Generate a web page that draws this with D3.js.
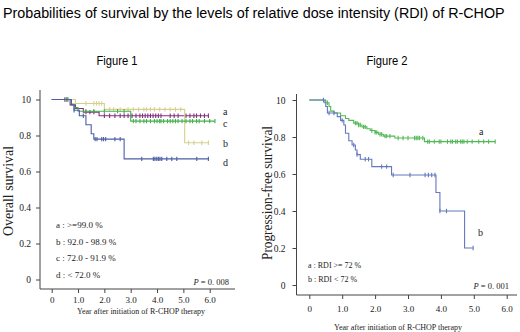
<!DOCTYPE html>
<html>
<head>
<meta charset="utf-8">
<script src="https://cdn.jsdelivr.net/npm/d3@7"></script>
<style>
  body { margin: 0; background: #fff; }
  svg { display: block; }
  .serif { font-family: "Liberation Serif", "DejaVu Serif", serif; fill: #222; }
  .sans { font-family: "Liberation Sans", Arial, sans-serif; fill: #111; }
</style>
</head>
<body>
<div id="chart"></div>
<script>
// Kaplan-Meier curves: [year, survival] steps, censor times, end year
const yTickValues = [0, 0.2, 0.4, 0.6, 0.8, 1.0];
const yTickLabels = ["0", "0.2", "0.4", "0.6", "0.8", "10"];
const xTickValues = [0, 1, 2, 3, 4, 5, 6];
const xTickLabels = ["0", "1.0", "2.0", "3.0", "4.0", "5.0", "6.0"];

// Figure 1 – overall survival by RDI group
const f1Groups = ["a", "b", "c", "d"];
const f1Legend = ["a : >=99.0 %", "b :  92.0 - 98.9 %", "c :  72.0 - 91.9 %", "d : < 72.0 %"];
const f1aSteps = [[0, 1], [0.7, 0.97], [0.9, 0.95], [1.2, 0.93], [1.8, 0.91]];
const f1aCensor = [0.5, 0.58, 1.3, 1.45, 1.6, 2.0, 2.2, 2.4, 2.6, 2.75, 2.9, 3.05, 3.2, 3.35, 3.45, 3.55, 3.65, 3.75, 3.85, 3.95, 4.05, 4.15, 4.5, 4.65, 4.8, 5.1, 5.25, 5.4, 5.5, 5.65, 5.8, 5.95];
const f1aEnd = 5.95;
const f1bSteps = [[0, 1], [0.9, 0.978], [2.0, 0.945], [5.05, 0.76]];
const f1bCensor = [1.3, 1.6, 1.7, 1.8, 1.9, 2.2, 2.35, 2.6, 2.9, 3.1, 3.3, 3.5, 3.6, 3.75, 3.9, 4.1, 4.3, 4.5, 4.7, 4.9, 5.2, 5.4, 5.7, 5.95];
const f1bEnd = 5.95;
const f1cSteps = [[0, 1], [0.75, 0.975], [0.85, 0.955], [1.0, 0.935], [3.0, 0.88]];
const f1cCensor = [0.55, 0.62, 1.3, 1.6, 2.0, 2.5, 2.75, 3.1, 3.2, 3.35, 3.5, 3.6, 3.75, 3.9, 4.0, 4.1, 4.15, 4.25, 4.4, 4.5, 4.6, 4.7, 4.8, 4.95, 5.1, 5.25, 5.35, 5.5, 5.6, 5.8, 6.0, 6.2];
const f1cEnd = 6.2;
const f1dSteps = [[0, 1], [0.75, 0.97], [0.85, 0.94], [1.05, 0.91], [1.3, 0.86], [1.5, 0.81], [1.6, 0.78], [2.75, 0.67]];
const f1dCensor = [0.85, 1.2, 1.65, 1.72, 1.9, 1.97, 2.05, 2.4, 2.6, 3.42, 3.86, 3.92, 3.99, 4.05, 4.11, 4.18, 4.37, 4.56, 4.75, 5.51, 5.95];
const f1dEnd = 5.95;

// Figure 2 – progression-free survival by RDI 72 %
const f2Groups = ["a", "b"];
const f2Legend = ["a : RDI >= 72 %", "b : RDI  < 72 %"];
const f2aSteps = [[0, 1], [0.45, 0.985], [0.6, 0.965], [0.65, 0.94], [0.75, 0.93], [0.95, 0.915], [1.1, 0.9], [1.2, 0.89], [1.35, 0.875], [1.5, 0.865], [1.6, 0.855], [1.75, 0.845], [1.85, 0.835], [2.0, 0.825], [2.1, 0.815], [2.25, 0.805], [2.6, 0.795], [3.5, 0.775]];
const f2aCensor = [0.55, 1.4, 1.45, 1.5, 1.55, 1.65, 1.7, 1.9, 2.0, 2.05, 2.15, 2.2, 2.3, 2.35, 2.45, 2.7, 2.85, 3.0, 3.2, 3.25, 3.3, 3.35, 3.45, 3.6, 3.65, 3.8, 3.95, 4.0, 4.2, 4.3, 4.35, 4.45, 4.5, 4.6, 4.65, 4.7, 4.8, 4.95, 5.15, 5.3, 5.45, 5.65];
const f2aEnd = 5.65;
const f2bSteps = [[0, 1], [0.5, 0.965], [0.55, 0.93], [0.85, 0.91], [0.95, 0.89], [1.05, 0.865], [1.1, 0.82], [1.2, 0.78], [1.3, 0.757], [1.4, 0.73], [1.45, 0.705], [1.55, 0.68], [1.9, 0.64], [2.5, 0.595], [3.85, 0.5], [3.97, 0.4], [4.72, 0.2]];
const f2bCensor = [0.43, 0.6, 0.75, 1.0, 1.35, 1.45, 1.7, 1.8, 2.2, 2.35, 2.55, 3.06, 3.52, 3.62, 3.72, 3.82, 3.97, 4.17, 4.98];
const f2bEnd = 4.98;

const colors1 = { a: "#83307f", b: "#d6cf8e", c: "#45b04c", d: "#4c5fa6" };
const colors2 = { a: "#52b957", b: "#6578bd" };

const W = 520, H = 332;
const svg = d3.select("#chart").append("svg").attr("width", W).attr("height", H);

function fitText(sel, w) {
  sel.attr("textLength", w).attr("lengthAdjust", "spacingAndGlyphs");
}

// main title: squeeze horizontally to the reference width with a transform
const title = svg.append("text").attr("class", "sans").attr("x", 0).attr("y", 0)
  .style("font-size", "15.5px").style("fill", "#000")
  .text("Probabilities of survival by the levels of relative dose intensity (RDI) of R-CHOP");
const tw = title.node().getComputedTextLength();
title.attr("transform", `translate(3,18) scale(${502 / tw},1)`);

function survAt(steps, t) {
  let s = 1;
  steps.forEach(p => { if (p[0] <= t) s = p[1]; });
  return s;
}

function panel(cfg) {
  const g = svg.append("g");
  const x = d3.scaleLinear().domain([0, 6]).range(cfg.xr);
  const y = d3.scaleLinear().domain([0, 1]).range(cfg.yr);

  g.append("text").attr("class", "sans").attr("x", cfg.titleX).attr("y", 65)
    .attr("text-anchor", "middle").style("font-size", "12.5px").style("fill", "#000")
    .text(cfg.title).call(fitText, 41);

  // frame lines
  g.append("line").attr("x1", cfg.axisX).attr("x2", cfg.axisX).attr("y1", cfg.top).attr("y2", cfg.bottom)
    .attr("stroke", "#444").attr("stroke-width", 1);
  g.append("line").attr("x1", cfg.axisX).attr("x2", cfg.right).attr("y1", cfg.bottom).attr("y2", cfg.bottom)
    .attr("stroke", "#444").attr("stroke-width", 1);

  const yAxis = g.append("g").attr("transform", `translate(${cfg.axisX},0)`)
    .call(d3.axisLeft(y).tickValues(yTickValues).tickSize(4).tickPadding(cfg.yPad)
      .tickFormat((d, i) => yTickLabels[i]));
  yAxis.select(".domain").remove();
  yAxis.selectAll("line").attr("stroke", "#444");
  yAxis.selectAll("text").attr("class", "serif").style("font-size", "9.5px").attr("fill", "#222");

  const xAxis = g.append("g").attr("transform", `translate(0,${cfg.bottom})`)
    .call(d3.axisBottom(x).tickValues(xTickValues).tickSize(4).tickPadding(cfg.xPad)
      .tickFormat((d, i) => xTickLabels[i]));
  xAxis.select(".domain").remove();
  xAxis.selectAll("line").attr("stroke", "#444");
  xAxis.selectAll("text").attr("class", "serif").style("font-size", "9px").attr("fill", "#222");

  g.append("text").attr("class", "serif").attr("x", cfg.xTitleX).attr("y", cfg.xTitleY)
    .attr("text-anchor", "middle").style("font-size", "8px")
    .text("Year after initiation  of R-CHOP therapy").call(fitText, cfg.xTitleW);

  g.append("text").attr("class", "serif")
    .attr("transform", `translate(${cfg.yTitleX},${cfg.yTitleY}) rotate(-90)`)
    .attr("text-anchor", "middle").style("font-size", cfg.yTitleSize).text(cfg.yTitle)
    .call(fitText, cfg.yTitleW);

  const line = d3.line().x(d => x(d[0])).y(d => y(d[1])).curve(d3.curveStepAfter);

  cfg.curves.forEach(c => {
    const pts = c.steps.concat([[c.end, c.steps[c.steps.length - 1][1]]]);
    g.append("path").attr("d", line(pts)).attr("fill", "none")
      .attr("stroke", c.color).attr("stroke-width", 1.1);
    g.selectAll(null).data(c.censor).join("line")
      .attr("x1", d => x(d)).attr("x2", d => x(d))
      .attr("y1", d => y(survAt(c.steps, d)) - 2.2)
      .attr("y2", d => y(survAt(c.steps, d)) + 2.2)
      .attr("stroke", c.color).attr("stroke-width", 1.1);
    g.append("text").attr("class", "serif").attr("x", c.labelX).attr("y", c.labelY)
      .style("font-size", "10px").text(c.name);
  });

  g.selectAll(null).data(cfg.legend).join("text").attr("class", "serif")
    .attr("x", cfg.legendX).attr("y", (d, i) => cfg.legendY + i * cfg.legendStep)
    .style("font-size", cfg.legendSize).text(d => d);

  const p = g.append("text").attr("class", "serif").attr("x", cfg.pX).attr("y", cfg.pY)
    .attr("text-anchor", "end").style("font-size", "8.5px");
  p.append("tspan").style("font-style", "italic").text("P");
  p.append("tspan").text(" = 0. " + cfg.p);
}

panel({
  title: "Figure 1", titleX: 117,
  xr: [51.7, 209.7], yr: [279.5, 99.5],
  axisX: 40, top: 90, bottom: 289, right: 235, xPad: 4, yPad: 5,
  xTitleX: 141, xTitleY: 314, xTitleW: 128,
  yTitle: "Overall survival", yTitleX: 13, yTitleY: 191, yTitleSize: "14.5px", yTitleW: 90,
  curves: [
    { name: f1Groups[0], steps: f1aSteps, censor: f1aCensor, end: f1aEnd, color: colors1.a, labelX: 223, labelY: 115 },
    { name: f1Groups[1], steps: f1bSteps, censor: f1bCensor, end: f1bEnd, color: colors1.b, labelX: 223, labelY: 147 },
    { name: f1Groups[2], steps: f1cSteps, censor: f1cCensor, end: f1cEnd, color: colors1.c, labelX: 223, labelY: 127 },
    { name: f1Groups[3], steps: f1dSteps, censor: f1dCensor, end: f1dEnd, color: colors1.d, labelX: 223, labelY: 166 }
  ],
  legend: f1Legend, legendX: 56, legendY: 228, legendStep: 16.5, legendSize: "9px",
  pX: 229, pY: 285, p: "008"
});

panel({
  title: "Figure 2", titleX: 387,
  xr: [309.3, 506.7], yr: [285, 100],
  axisX: 296.5, top: 94, bottom: 295, right: 517, xPad: 7, yPad: 7,
  xTitleX: 398, xTitleY: 330, xTitleW: 128,
  yTitle: "Progression-free survival", yTitleX: 272, yTitleY: 193, yTitleSize: "14px", yTitleW: 134,
  curves: [
    { name: f2Groups[0], steps: f2aSteps, censor: f2aCensor, end: f2aEnd, color: colors2.a, labelX: 479, labelY: 135 },
    { name: f2Groups[1], steps: f2bSteps, censor: f2bCensor, end: f2bEnd, color: colors2.b, labelX: 478, labelY: 236 }
  ],
  legend: f2Legend, legendX: 308, legendY: 268, legendStep: 13.5, legendSize: "8px",
  pX: 509, pY: 289, p: "001"
});
</script>
</body>
</html>
